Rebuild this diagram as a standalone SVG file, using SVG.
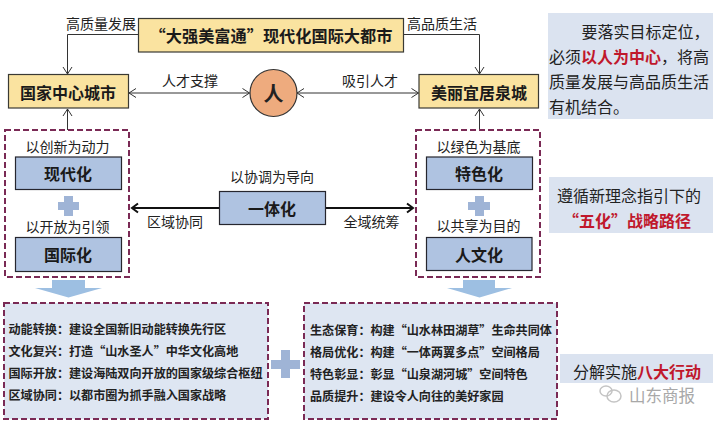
<svg xmlns="http://www.w3.org/2000/svg" width="718" height="425" viewBox="0 0 718 425">
<style>
text{font-family:"Noto Sans CJK SC","Liberation Sans",sans-serif;fill:#222;text-anchor:middle;dominant-baseline:central}
.lab{font-size:14px}
.b{font-weight:700}
.h{font-size:16px;font-weight:700;fill:#1a1a1a}
.blue{fill:#afc3e1;stroke:#26262e;stroke-width:1.2}
.yel{fill:#fae3a0;stroke:#3a3a34;stroke-width:1.2}
.dash{fill:none;stroke:#7a2a55;stroke-width:2;stroke-dasharray:6 3}
.pan{fill:#dbe3f0}
.panl{fill:#dee6f2}
.act{font-size:12.1px;font-weight:700;text-anchor:start;fill:#222}
.p{font-size:16px;text-anchor:start}
.red{fill:#c0182c;font-weight:700}
.plus{fill:#9fb4d6}
.big{fill:#9dbfe2}
.thin{fill:none;stroke:#333;stroke-width:1}
.thick{fill:none;stroke:#111;stroke-width:2}
</style>
<defs>
<marker id="open" markerUnits="userSpaceOnUse" markerWidth="10" markerHeight="12" refX="8" refY="6" orient="auto-start-reverse"><path d="M1 1.5L8 6L1 10.5" fill="none" stroke="#333" stroke-width="1"/></marker>
<marker id="bold" markerUnits="userSpaceOnUse" markerWidth="10" markerHeight="12" refX="8" refY="6" orient="auto"><path d="M2 1.5L8 6L2 10.5" fill="none" stroke="#111" stroke-width="2"/></marker>
</defs>
<rect width="718" height="425" fill="#fff"/>
<g id="connectors">
<path class="thin" d="M138 34.5H67.5V74" marker-end="url(#open)"/>
<path class="thin" d="M403 34.5H479.5V74" marker-end="url(#open)"/>
<path class="thin" d="M129 93H249.5" marker-start="url(#open)" marker-end="url(#open)"/>
<path class="thin" d="M418.5 93H297" marker-start="url(#open)" marker-end="url(#open)"/>
<path class="thin" d="M67.5 130V109" marker-end="url(#open)"/>
<path class="thin" d="M479.5 130V109" marker-end="url(#open)"/>
<path class="thick" d="M219 208H132" marker-end="url(#bold)"/>
<path class="thick" d="M325 208H413" marker-end="url(#bold)"/>
<path class="big" d="M52 280H85V288H102L68.5 297.5L35 288H52Z"/>
<path class="big" d="M463 280H495V288H512L479.5 297.500L447 288H463Z"/>
</g>
<g id="node-title"><rect class="yel" x="138.5" y="18.500" width="265" height="33.500"/><text class="h" x="271" y="35" style="font-size:16.2px">“大强美富通”现代化国际大都市</text></g>
<text class="lab" x="101" y="23">高质量发展</text>
<text class="lab" x="442" y="23">高品质生活</text>
<g id="node-left"><rect class="yel" x="8.5" y="74.5" width="120" height="33.5"/><text class="h" x="68" y="91.5">国家中心城市</text></g>
<g id="node-person"><circle cx="273.5" cy="93" r="23.5" fill="#eeab7e" stroke="#333" stroke-width="1.2"/><text class="b" x="273.5" y="92" style="font-size:20px">人</text></g>
<g id="node-right"><rect class="yel" x="419" y="74.5" width="119.5" height="33.5"/><text class="h" x="479" y="91.5">美丽宜居泉城</text></g>
<text class="lab" x="190" y="80">人才支撑</text>
<text class="lab" x="370" y="80">吸引人才</text>
<g id="group-left">
<rect class="dash" x="5" y="130" width="124" height="147"/>
<text class="lab" x="67.5" y="146">以创新为动力</text>
<rect class="blue" x="15.5" y="157" width="106" height="32.5"/><text class="h" x="68" y="173">现代化</text>
<path class="plus" d="M64 196H73V202H79V210H73V216H64V210H58V202H64Z"/>
<text class="lab" x="67.5" y="226">以开放为引领</text>
<rect class="blue" x="15.5" y="237.5" width="106" height="34"/><text class="h" x="68" y="254">国际化</text>
</g>
<g id="group-right">
<rect class="dash" x="416" y="130" width="124" height="147"/>
<text class="lab" x="478.5" y="146">以绿色为基底</text>
<rect class="blue" x="426.5" y="157" width="106" height="32.5"/><text class="h" x="479" y="173">特色化</text>
<path class="plus" d="M475 196H484V202H490V210H484V216H475V210H468V202H475Z"/>
<text class="lab" x="478.5" y="225">以共享为目的</text>
<rect class="blue" x="426.5" y="237.5" width="105.5" height="33"/><text class="h" x="479" y="254">人文化</text>
</g>
<g id="node-center">
<text class="lab" x="272" y="176">以协调为导向</text>
<rect class="blue" x="219.5" y="191.5" width="106" height="33"/><text class="h" x="272" y="208">一体化</text>
</g>
<text class="lab" x="175" y="221">区域协同</text>
<text class="lab" x="371.5" y="221">全域统筹</text>
<g id="actions-left">
<rect class="panl" x="4" y="303" width="264" height="116"/><rect class="dash" x="4" y="303" width="264" height="116"/>
<text class="act" x="8.5" y="328">动能转换：建设全国新旧动能转换先行区</text>
<text class="act" x="8.5" y="350">文化复兴：打造“山水圣人”中华文化高地</text>
<text class="act" x="8.5" y="372">国际开放：建设海陆双向开放的国家级综合枢纽</text>
<text class="act" x="8.5" y="394">区域协同：以都市圈为抓手融入国家战略</text>
</g>
<path id="plus-center" class="plus" d="M281 350H290V360H300V369H290V378H281V369H271V360H281Z"/>
<g id="actions-right">
<rect class="panl" x="304" y="303" width="253" height="116"/><rect class="dash" x="304" y="303" width="253" height="116"/>
<text class="act" x="310" y="329">生态保育：构建“山水林田湖草”生命共同体</text>
<text class="act" x="310" y="351">格局优化：构建“一体两翼多点”空间格局</text>
<text class="act" x="310" y="373">特色彰显：彰显“山泉湖河城”空间特色</text>
<text class="act" x="310" y="395">品质提升：建设令人向往的美好家园</text>
</g>
<g id="panel-1">
<rect class="pan" x="548" y="13" width="165" height="106"/>
<text class="p" x="581.5" y="31">要落实目标定位，</text>
<text class="p" x="549" y="56">必须<tspan class="red">以人为中心</tspan>，将高</text>
<text class="p" x="549" y="81">质量发展与高品质生活</text>
<text class="p" x="549" y="106">有机结合。</text>
</g>
<g id="panel-2">
<rect class="pan" x="549" y="177" width="164" height="56"/>
<text class="p" x="557" y="195">遵循新理念指引下的</text>
<text class="p red" x="563" y="220">“五化”战略路径</text>
</g>
<g id="panel-3">
<rect class="pan" x="560" y="354" width="153" height="29"/>
<text class="p" x="573" y="371">分解实施<tspan class="red">八大行动</tspan></text>
</g>
<g id="watermark">
<ellipse cx="606" cy="391" rx="6" ry="5" fill="none" stroke="#c4c4c4" stroke-width="1.5"/>
<ellipse cx="614" cy="396" rx="7" ry="6" fill="none" stroke="#c4c4c4" stroke-width="1.5"/>
<text x="662" y="395" style="font-size:16.5px;fill:#a8a8a8">山东商报</text>
</g>
</svg>
